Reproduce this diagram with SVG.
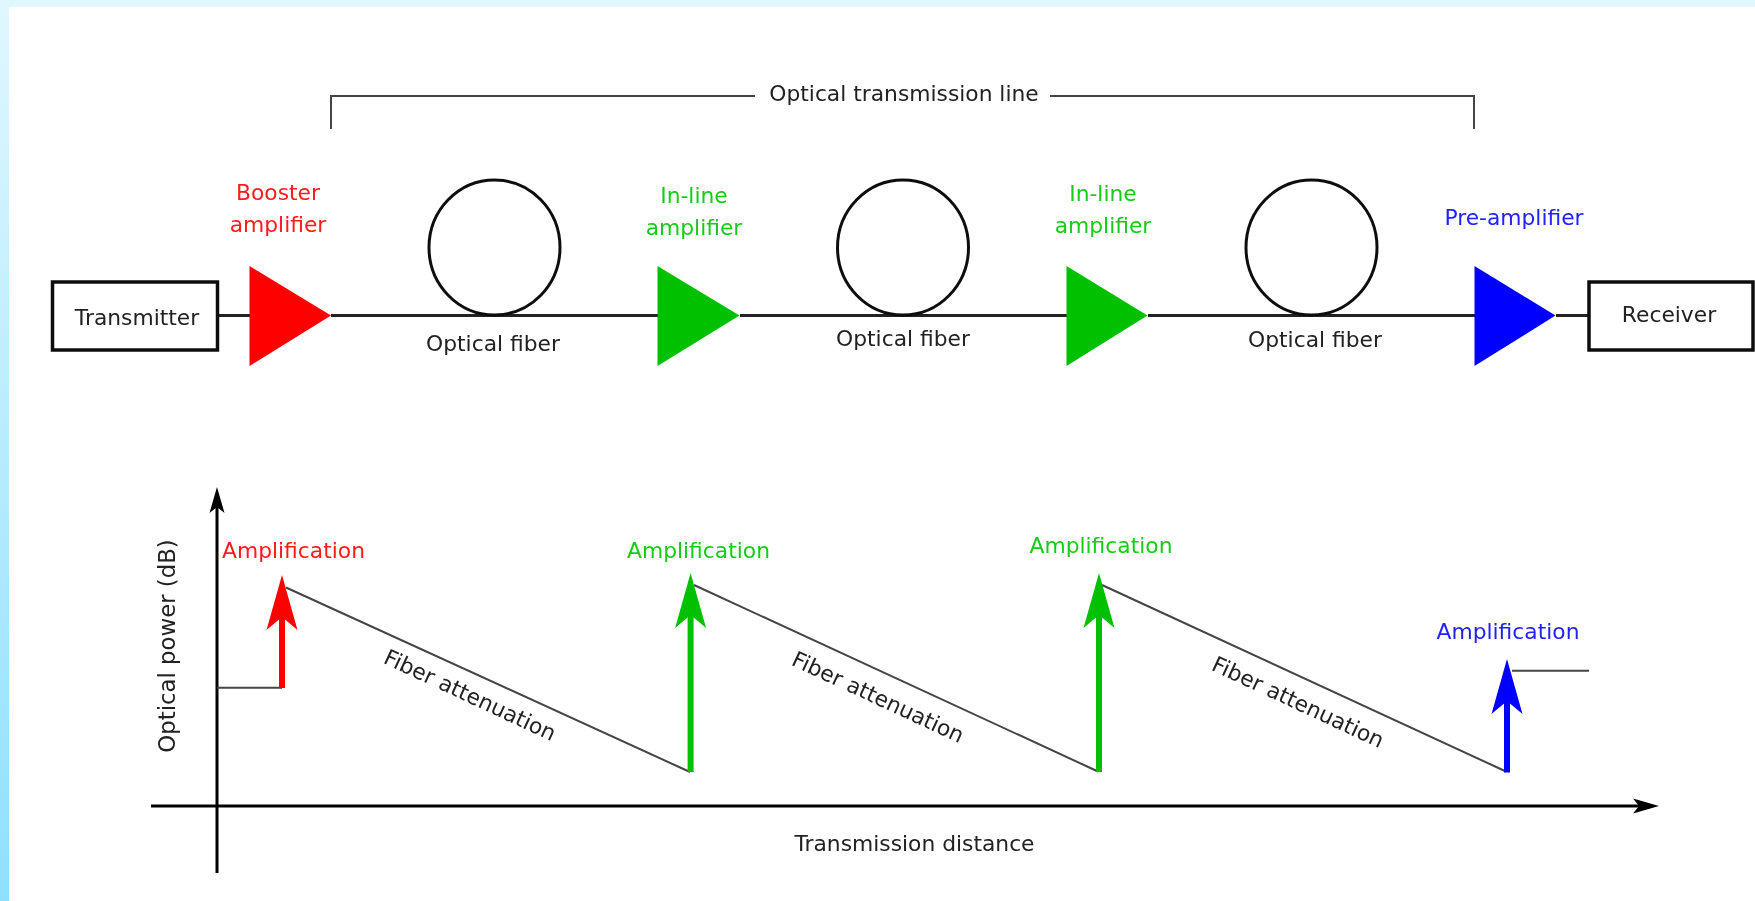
<svg xmlns="http://www.w3.org/2000/svg" width="1755" height="901" viewBox="0 0 1755 901">
<style>
text{font-family:"DejaVu Sans",Verdana,sans-serif;font-size:21.8px;fill:#222;text-anchor:middle}
.r{fill:#ff1a1a}.g{fill:#17cc17}.b{fill:#2222ff}
.box{fill:#fff;stroke:#111;stroke-width:3.5}
.loop{fill:none;stroke:#111;stroke-width:3}
.wire{fill:none;stroke:#222;stroke-width:3.2}
.thin{fill:none;stroke:#444;stroke-width:2}
.axis{fill:none;stroke:#000;stroke-width:3}
.ar{fill:none;stroke:#f00;stroke-width:6}
.ag{fill:none;stroke:#00c000;stroke-width:6}
.ab{fill:none;stroke:#00f;stroke-width:6}
</style>
<defs>
<linearGradient id="bg" x1="0" y1="0" x2="0" y2="1"><stop offset="0" stop-color="#e0f7ff"/><stop offset="1" stop-color="#8fe0ff"/></linearGradient>
<filter id="soft" x="0" y="0" width="1" height="1" filterUnits="objectBoundingBox"><feGaussianBlur stdDeviation="0.5"/></filter>
<marker id="hr" markerUnits="userSpaceOnUse" markerWidth="56" markerHeight="32" viewBox="0 -16 56 32" refX="13" refY="0" orient="auto"><path d="M55,0L0,-15.5L13,0L0,15.5Z" fill="#f00"/></marker>
<marker id="hg" markerUnits="userSpaceOnUse" markerWidth="56" markerHeight="32" viewBox="0 -16 56 32" refX="13" refY="0" orient="auto"><path d="M55,0L0,-15.5L13,0L0,15.5Z" fill="#00c000"/></marker>
<marker id="hb" markerUnits="userSpaceOnUse" markerWidth="56" markerHeight="32" viewBox="0 -16 56 32" refX="13" refY="0" orient="auto"><path d="M55,0L0,-15.5L13,0L0,15.5Z" fill="#00f"/></marker>
<marker id="hk" markerUnits="userSpaceOnUse" markerWidth="27" markerHeight="16" viewBox="0 -8 27 16" refX="6" refY="0" orient="auto"><path d="M26,0L0,-7.5L6,0L0,7.5Z" fill="#000"/></marker>
</defs>
<rect width="1755" height="901" fill="url(#bg)"/>
<rect x="1" y="0" width="1754" height="7" fill="#e0f7ff"/>
<rect x="9" y="7" width="1746" height="894" fill="#fff"/>

<g filter="url(#soft)">
<rect x="9" y="7" width="1746" height="894" fill="#fff"/>
<g id="connectors">
<path class="thin" d="M331,129V96H755M1050,96H1474V129"/>
<path class="wire" d="M217,315.5H250M331,315.5H658M740,315.5H1067M1148,315.5H1475M1556,315.5H1589"/>
<path class="axis" d="M217,873V507" marker-end="url(#hk)"/>
<path class="axis" d="M151,806H1639" marker-end="url(#hk)"/>
<path class="thin" d="M217,687.7H282"/>
<path class="thin" d="M286,587.5L690,772"/>
<path class="thin" d="M694,585L1098,771.5"/>
<path class="thin" d="M1102,585L1506,771.5"/>
<path class="thin" d="M1512,670.7H1589"/>
<path class="ar" d="M282,688V617" marker-end="url(#hr)"/>
<path class="ag" d="M690.6,772V615" marker-end="url(#hg)"/>
<path class="ag" d="M1099,772V615" marker-end="url(#hg)"/>
<path class="ab" d="M1507,772.5V701" marker-end="url(#hb)"/>
</g>

<g id="transmitter"><rect class="box" x="52.5" y="282" width="165" height="68"/><text x="137" y="325">Transmitter</text></g>
<g id="receiver"><rect class="box" x="1589" y="282" width="164" height="68"/><text x="1669" y="322">Receiver</text></g>

<g id="booster"><polygon points="249.5,266 331,315.5 249.5,366" fill="#f00"/><text class="r" x="278" y="200">Booster</text><text class="r" x="278" y="232">amplifier</text></g>
<g id="inline1"><polygon points="657.5,266 739.5,315.5 657.5,366" fill="#00c000"/><text class="g" x="694" y="203">In-line</text><text class="g" x="694" y="235">amplifier</text></g>
<g id="inline2"><polygon points="1066.5,266 1147.5,315.5 1066.5,366" fill="#00c000"/><text class="g" x="1103" y="201">In-line</text><text class="g" x="1103" y="233">amplifier</text></g>
<g id="preamp"><polygon points="1474.5,266 1555.5,315.5 1474.5,366" fill="#00f"/><text class="b" x="1514" y="225">Pre-amplifier</text></g>

<g id="fiber1"><ellipse class="loop" cx="494.5" cy="247.5" rx="65.5" ry="67.5"/><text x="493" y="351">Optical fiber</text></g>
<g id="fiber2"><ellipse class="loop" cx="903" cy="247.5" rx="65.5" ry="67.5"/><text x="903" y="346">Optical fiber</text></g>
<g id="fiber3"><ellipse class="loop" cx="1311.5" cy="247.5" rx="65.5" ry="67.5"/><text x="1315" y="347">Optical fiber</text></g>

<g id="line-label"><text x="904" y="101">Optical transmission line</text></g>
<g id="y-label"><text style="font-size:22.8px" transform="translate(175,646) rotate(-90)">Optical power (dB)</text></g>
<g id="x-label"><text x="914.5" y="851">Transmission distance</text></g>
<g id="amp1"><text class="r" x="293.5" y="558">Amplification</text></g>
<g id="amp2"><text class="g" x="698.5" y="558">Amplification</text></g>
<g id="amp3"><text class="g" x="1101" y="553">Amplification</text></g>
<g id="amp4"><text class="b" x="1508" y="639">Amplification</text></g>
<g id="att1"><text transform="translate(467,702) rotate(25)">Fiber attenuation</text></g>
<g id="att2"><text transform="translate(875,704) rotate(25)">Fiber attenuation</text></g>
<g id="att3"><text transform="translate(1295,709) rotate(25)">Fiber attenuation</text></g>
</g>
</svg>
